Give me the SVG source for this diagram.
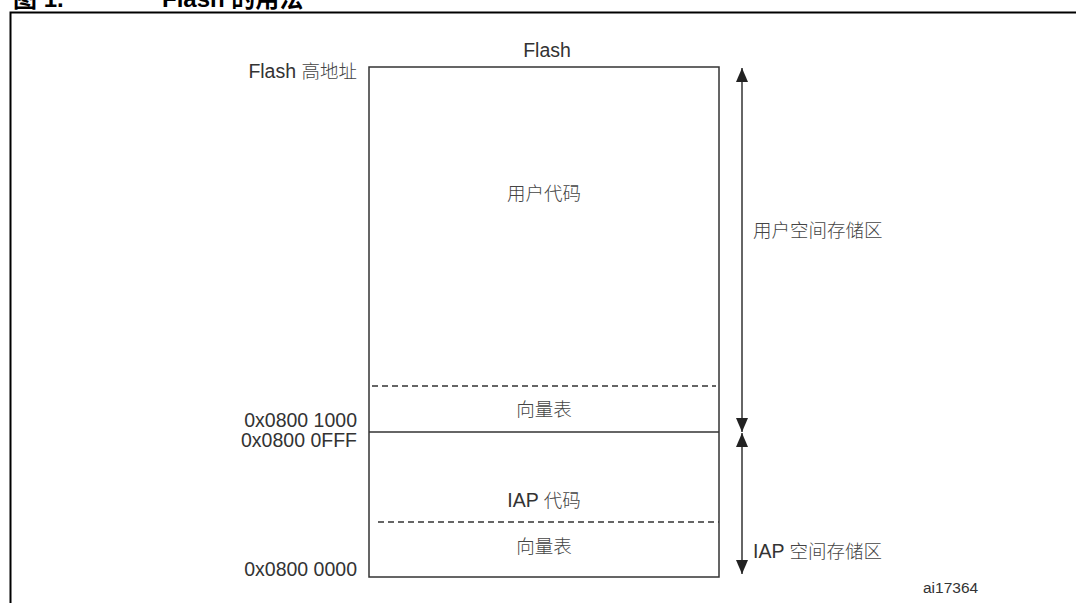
<svg xmlns="http://www.w3.org/2000/svg" width="1076" height="603" viewBox="0 0 1076 603">
<style>
.t{font-family:"Liberation Sans","Noto Sans CJK SC",sans-serif;font-size:19.5px;fill:#333}
.c{font-family:"Liberation Sans","Noto Sans CJK SC",sans-serif;font-size:18.5px;fill:#444;font-weight:300}
.m{text-anchor:middle}
.e{text-anchor:end}
.ln{stroke:#333;stroke-width:1.5;fill:none}
.dash{stroke:#333;stroke-width:1.5;stroke-dasharray:6 4;fill:none}
.title{font-family:"Liberation Sans","Noto Sans CJK SC",sans-serif;font-size:24px;font-weight:bold;fill:#000}
</style>
<defs>
<marker id="ah" viewBox="0 0 14 12" refX="14" refY="6" markerWidth="14" markerHeight="12" markerUnits="userSpaceOnUse" orient="auto-start-reverse">
<path d="M0,0 L14,6 L0,12 Z" fill="#222"/>
</marker>
</defs>
<rect width="1076" height="603" fill="#fff"/>
<g id="title">
<text class="title" x="13" y="7">图 1.</text>
<text class="title" x="162" y="7">Flash 的用法</text>
</g>
<g id="frame">
<path d="M10.5,603 V12.5 H1076" stroke="#000" stroke-width="2" fill="none"/>
</g>
<g id="flash">
<rect class="ln" x="369" y="67" width="350" height="510"/>
<text class="t m" x="547" y="57">Flash</text>
<text class="t e" x="357" y="78">Flash <tspan class="c">高地址</tspan></text>
</g>
<g id="user-code">
<text class="c m" x="544" y="200">用户代码</text>
</g>
<g id="user-vector">
<line class="dash" x1="372" y1="386" x2="716" y2="386"/>
<text class="c m" x="544" y="416">向量表</text>
</g>
<g id="divider">
<line class="ln" x1="369" y1="432" x2="719" y2="432"/>
</g>
<g id="iap-code">
<text class="t m" x="544" y="507">IAP <tspan class="c">代码</tspan></text>
</g>
<g id="iap-vector">
<line class="dash" x1="378" y1="522" x2="719" y2="522"/>
<text class="c m" x="544" y="553">向量表</text>
</g>
<g id="addresses">
<text class="t e" x="357" y="427">0x0800 1000</text>
<text class="t e" x="357" y="447">0x0800 0FFF</text>
<text class="t e" x="357" y="576">0x0800 0000</text>
</g>
<g id="connectors">
<line class="ln" x1="742" y1="68" x2="742" y2="432" marker-start="url(#ah)" marker-end="url(#ah)"/>
<line class="ln" x1="742" y1="433" x2="742" y2="574" marker-start="url(#ah)" marker-end="url(#ah)"/>
</g>
<g id="user-space">
<text class="c" x="753" y="237">用户空间存储区</text>
</g>
<g id="iap-space">
<text class="t" x="753" y="558">IAP <tspan class="c">空间存储区</tspan></text>
</g>
<g id="ref">
<text class="t" x="923" y="593" style="font-size:15.5px">ai17364</text>
</g>
</svg>
